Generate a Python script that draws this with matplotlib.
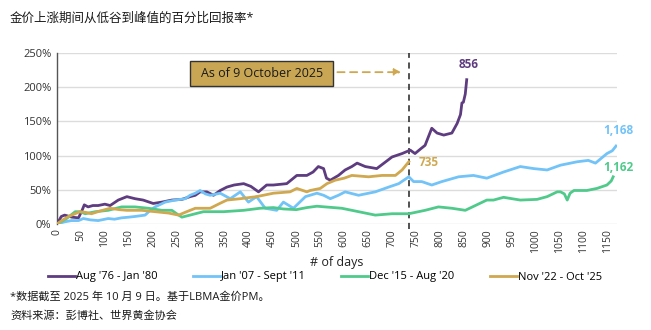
import matplotlib
matplotlib.use("Agg")
import matplotlib.pyplot as plt
from matplotlib.patches import Rectangle

plt.rcParams['font.family'] = ['Open Sans', 'Noto Sans CJK SC', 'DejaVu Sans']

# ---- data: cumulative return (%) from trough, by trading day ----
days_7680 = [0, 9, 16, 31, 45, 53, 57, 65, 75, 86, 100, 111, 128, 146, 163, 180, 201, 219,
             240, 261, 278, 289, 299, 313, 327, 341, 355, 370, 390, 405, 421, 438, 452, 466,
             480, 501, 522, 535, 546, 557, 563, 571, 588, 602, 616, 627, 644, 668, 685, 700,
             721, 738, 748, 760, 769, 783, 794, 808, 825, 836, 843, 846, 849, 853, 856]
ret_7680 = [0, 11, 13, 10, 9, 21, 28, 25, 27, 27, 29, 27, 35, 40, 37, 35, 30, 32,
            35, 36, 40, 42, 47, 47, 42, 49, 54, 57, 59, 55, 47, 57, 57, 58,
            59, 71, 71, 76, 84, 81, 67, 64, 71, 79, 84, 89, 84, 81, 90, 98,
            103, 108, 103, 110, 115, 140, 133, 130, 133, 147, 160, 177, 178, 190, 211]

days_0711 = [0, 15, 30, 45, 55, 70, 86, 107, 120, 135, 150, 163, 184, 195, 205, 226, 247,
             268, 278, 289, 299, 310, 320, 341, 362, 383, 400, 417, 435, 459, 473, 494, 519,
             543, 557, 571, 588, 602, 630, 665, 693, 714, 735, 745, 762, 783, 804, 839, 870,
             898, 933, 968, 996, 1024, 1052, 1087, 1110, 1125, 1149, 1160, 1168]
ret_0711 = [0, 3, 5, 5, 8, 6, 5, 8, 7, 9, 10, 11, 13, 20, 25, 32, 35,
            37, 42, 45, 49, 44, 42, 45, 37, 47, 32, 40, 23, 20, 32, 23, 40,
            45, 42, 37, 42, 47, 42, 47, 54, 59, 69, 62, 62, 57, 62, 69, 71,
            67, 76, 84, 81, 79, 86, 91, 93, 89, 103, 107, 114]

days_1520 = [0, 10, 20, 38, 48, 59, 80, 107, 135, 153, 163, 191, 219, 240, 250, 261, 278,
             289, 306, 348, 390, 424, 452, 473, 500, 522, 543, 560, 595, 630, 665, 700, 735,
             769, 797, 825, 853, 874, 898, 912, 933, 968, 1003, 1024, 1045, 1052, 1060, 1066,
             1072, 1080, 1107, 1128, 1149, 1158, 1162]
ret_1520 = [0, 4, 8, 18, 18, 15, 18, 20, 25, 25, 25, 23, 20, 20, 15, 10, 13,
            15, 18, 18, 20, 23, 24, 22, 21, 24, 26, 25, 23, 18, 13, 15, 15,
            20, 25, 23, 20, 27, 35, 35, 39, 35, 36, 40, 47, 47, 44, 35,
            45, 49, 49, 52, 57, 63, 69]

days_2225 = [0, 10, 24, 48, 60, 72, 90, 111, 130, 146, 177, 205, 233, 254, 271, 289, 320,
             340, 355, 383, 417, 452, 487, 501, 522, 529, 550, 564, 581, 600, 616, 651, 679,
             707, 721, 728, 735]
ret_2225 = [0, 5, 11, 18, 17, 15, 19, 23, 21, 20, 20, 18, 16, 13, 18, 23, 23,
            30, 35, 37, 40, 45, 47, 52, 47, 49, 52, 59, 64, 67, 71, 69, 71,
            71, 79, 85, 91]

series_labels = ["Aug '76 - Jan '80", "Jan '07 - Sept '11", "Dec '15 - Aug '20", "Nov '22 - Oct '25"]
end_labels = ["856", "1,168", "1,162", "735"]
colors = ["#5e3c80", "#72c3f7", "#4fca8b", "#cfa84f"]

x_ticks = list(range(0, 1151, 50))
y_ticks = [0, 50, 100, 150, 200, 250]

# ---- figure ----
fig = plt.figure(figsize=(6.51, 3.30), dpi=100)
ax = fig.add_axes([57 / 651, 1 - 224 / 330, 560 / 651, 171 / 330])

series = [(days_7680, ret_7680), (days_0711, ret_0711), (days_1520, ret_1520), (days_2225, ret_2225)]
order = [2, 1, 3, 0]
handles = [None] * 4
for i in order:
    d, r = series[i]
    handles[i], = ax.plot(d, r, color=colors[i], lw=2.0, label=series_labels[i],
                          solid_joinstyle='round', zorder=3 + i)

ax.set_xlim(0, 1170)
ax.set_ylim(0, 250)
ax.set_yticks(y_ticks)
ax.set_yticklabels([f"{v}%" for v in y_ticks], fontsize=8, color="#333333")
ax.set_xticks(x_ticks)
ax.set_xticklabels([str(v) for v in x_ticks], rotation=90, fontsize=7.5, color="#333333")
ax.tick_params(axis='both', length=0, pad=4)
ax.grid(axis='y', color="#dcdcdc", lw=1.0)
ax.set_axisbelow(True)
for s in ['top', 'right', 'bottom']:
    ax.spines[s].set_visible(False)
ax.spines['left'].set_color("#555555")
ax.spines['left'].set_linewidth(1.0)
ax.set_xlabel("# of days", fontsize=9, color="#222222", labelpad=2)

# vertical marker at the current-cycle day count
ax.axvline(days_2225[-1], color="#222222", lw=1.1, ls=(0, (4, 3)), ymin=-0.03, ymax=1.0,
           clip_on=False, zorder=2)

# end-of-series labels
ax.text(days_7680[-1] + 3, 233, end_labels[0], color=colors[0], fontsize=8.5,
        fontweight='bold', ha='center', va='center')
ax.text(1172, 136, end_labels[1], color=colors[1], fontsize=8.5,
        fontweight='bold', ha='center', va='center', clip_on=False)
ax.text(1172, 83, end_labels[2], color=colors[2], fontsize=8.5,
        fontweight='bold', ha='center', va='center', clip_on=False)
ax.text(776, 90, end_labels[3], color=colors[3], fontsize=8.5,
        fontweight='bold', ha='center', va='center')

# "As of" callout box with dashed arrow
ax.add_patch(Rectangle((278, 202), 299, 36.6, facecolor="#c9a653", edgecolor="#333333",
                       lw=1.0, zorder=6))
ax.text(300, 220.3, "As of 9 October 2025", fontsize=9, color="#1a1a1a",
        ha='left', va='center', zorder=7)
ax.annotate("", xy=(725, 222), xytext=(580, 222),
            arrowprops=dict(arrowstyle='-|>', color=colors[3], lw=1.3,
                            ls=(0, (4, 3)), mutation_scale=10), zorder=6)

# legend
fig.legend(handles=handles, labels=series_labels, loc='center', ncol=4,
           bbox_to_anchor=(325 / 651, 1 - 277 / 330), frameon=False, fontsize=8,
           handlelength=2.4, handletextpad=0.1, columnspacing=3.2, borderaxespad=0)

# title and notes
fig.text(10 / 651, 1 - 18 / 330, "金价上涨期间从低谷到峰值的百分比回报率*", fontsize=9,
         color="#1a1a1a", ha='left', va='center')
fig.text(10 / 651, 1 - 297 / 330, "*数据截至 2025 年 10 月 9 日。基于LBMA金价PM。", fontsize=8,
         color="#1a1a1a", ha='left', va='center')
fig.text(10 / 651, 1 - 316 / 330, "资料来源：彭博社、世界黄金协会", fontsize=8,
         color="#1a1a1a", ha='left', va='center')

fig.savefig("out.png", dpi=100)
